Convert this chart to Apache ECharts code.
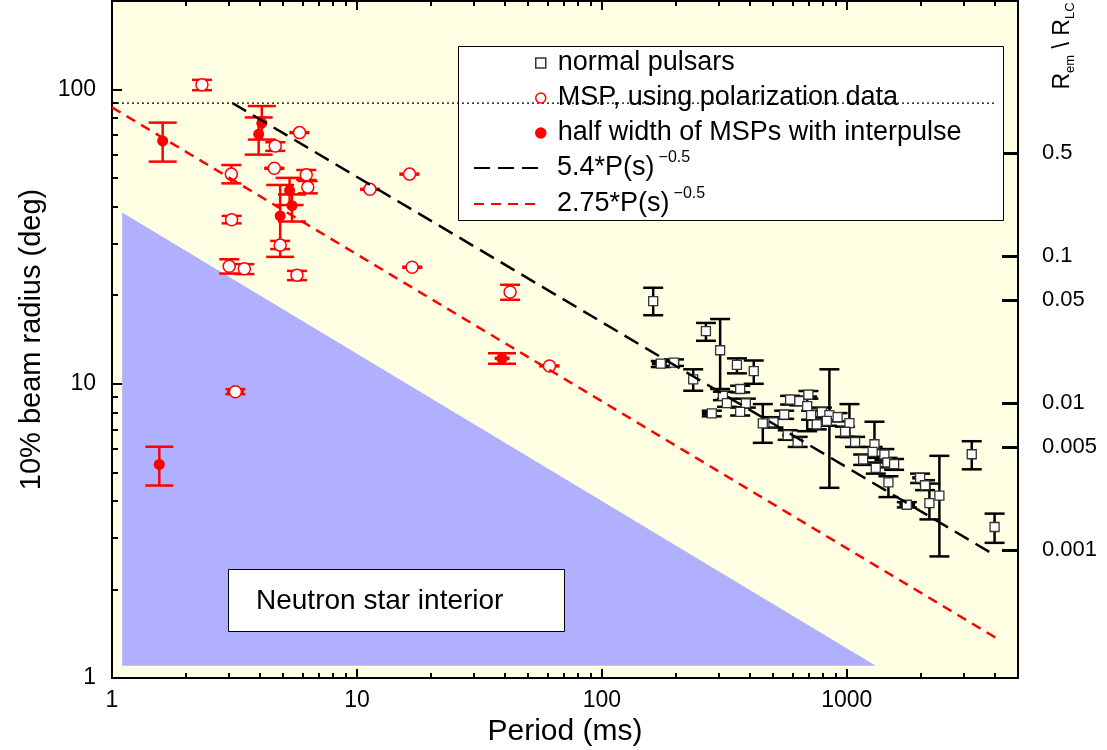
<!DOCTYPE html>
<html>
<head>
<meta charset="utf-8">
<title>beam radius vs period</title>
<script src="https://cdn.jsdelivr.net/npm/echarts@6.0.0/dist/echarts.min.js"></script>
<style>
  html, body { margin: 0; padding: 0; background: #fff; }
  #main { width: 1107px; height: 750px; }
</style>
</head>
<body>
<div id="main"></div>
<script>
// 10% beam radius vs period, log-log

// [P(ms), rho(deg), rhoLow, rhoHigh, pLow, pHigh]  null = no bar
var normalPulsars = [
  [162, 19.1, 17.1, 21.2, null, null],
  [266, 15.1, 14.0, 16.1, null, null],
  [304, 13.0, 9.6, 16.6, null, null],
  [174, 11.7, 11.4, 11.95, 160, 184],
  [197, 11.8, 11.5, 12.1, 188, 207],
  [236, 10.35, 9.47, 11.2, null, null],
  [356, 11.6, 10.85, 12.2, null, null],
  [417, 11.05, 10.0, 12.0, null, null],
  [367, 9.6, 9.35, 9.85, null, null],
  [312, 9.1, 8.8, 9.4, null, null],
  [324, 8.6, 8.35, 8.9, null, null],
  [387, 8.58, 8.3, 8.9, null, null],
  [281, 7.93, 7.75, 8.1, 256, 294],
  [367, 8.03, 7.8, 8.3, null, null],
  [454, 7.33, 6.3, 8.53, null, null],
  [502, 7.39, 7.1, 7.7, null, null],
  [555, 7.86, 7.6, 8.1, null, null],
  [587, 8.84, 8.5, 9.1, null, null],
  [640, 8.73, 8.45, 9.0, null, null],
  [697, 9.19, 8.9, 9.45, null, null],
  [689, 8.4, 6.9, 9.05, null, null],
  [715, 7.83, 7.55, 8.1, null, null],
  [754, 7.28, 7.0, 7.55, null, null],
  [791, 8.01, 7.7, 8.3, null, null],
  [849, 7.83, 4.43, 11.2, null, null],
  [917, 7.7, 7.45, 7.95, null, null],
  [1025, 7.35, 6.59, 8.53, null, null],
  [984, 6.87, 6.6, 7.15, null, null],
  [1081, 6.34, 6.1, 6.6, null, null],
  [574, 6.69, 6.45, 6.95, 545, 600],
  [630, 6.34, 6.1, 6.6, null, null],
  [1166, 5.53, 5.3, 5.75, null, null],
  [1297, 6.23, 5.6, 7.43, null, null],
  [1275, 5.87, 5.65, 6.1, null, null],
  [1424, 5.75, 5.5, 6.0, null, null],
  [1465, 5.4, 5.2, 5.6, null, null],
  [1560, 5.33, 5.1, 5.55, null, null],
  [1313, 5.18, 4.95, 5.4, null, null],
  [1479, 4.62, 4.12, 4.85, null, null],
  [1758, 3.88, 3.8, 3.96, 1640, 1900],
  [1992, 4.79, 4.6, 4.95, 1850, 2080],
  [2087, 4.52, 4.35, 4.7, null, null],
  [2174, 3.93, 3.46, 4.58, null, null],
  [2388, 4.17, 2.59, 5.69, null, null],
  [3237, 5.76, 5.12, 6.38, null, null],
  [4012, 3.26, 2.88, 3.62, null, null],
  [829, 7.48, 7.2, 7.75, null, null]
];

var mspPolar = [
  [2.33, 103.8, 99.5, 107.9, null, null],
  [5.83, 71.4, null, null, 5.3, 6.4],
  [4.64, 64.3, 61.9, 66.2, null, null],
  [4.6, 54.0, null, null, 4.18, 5.06],
  [3.07, 51.6, 48.0, 55.4, null, null],
  [6.21, 51.3, 49.3, 53.3, null, null],
  [6.3, 46.6, 44.4, 48.9, null, null],
  [16.4, 51.6, null, null, 14.9, 18.0],
  [11.3, 45.8, null, null, 10.3, 12.4],
  [3.08, 36.1, 35.1, 37.2, null, null],
  [4.86, 29.6, 28.7, 30.6, null, null],
  [3.01, 25.1, 23.7, 26.5, null, null],
  [3.47, 24.6, 23.6, 25.5, null, null],
  [5.69, 23.4, 22.5, 24.2, null, null],
  [16.8, 24.9, null, null, 15.3, 18.5],
  [3.19, 9.39, 9.22, 9.59, 2.95, 3.45],
  [42.2, 20.5, 19.3, 21.7, null, null],
  [61.1, 11.5, null, null, 55.5, 67.2]
];

var mspInterpulse = [
  [1.61, 66.9, 56.9, 77.2, null, null],
  [1.56, 5.32, 4.51, 6.11, null, null],
  [3.97, 70.5, 60.1, 80.4, null, null],
  [4.09, 76.9, 67.6, 87.9, null, null],
  [4.86, 37.2, 27.0, 47.4, null, null],
  [5.31, 45.4, 40.5, 50.1, null, null],
  [5.43, 40.3, 35.6, 44.0, null, null],
  [39.1, 12.2, 11.7, 12.7, 36.5, 42.0]
];

// lines
var fitBlack = [[3.1, 90], [4070, 2.6]];
var fitRed = [[1, 87], [4060, 1.37]];
var line90 = [[1, 90], [4100, 90]];
var nsInterior = [[1.1, 38.2], [1.1, 1.1], [1313, 1.1]];

// ticks
var xMajor = [1, 10, 100, 1000];
var xMinor = [2, 3, 4, 5, 6, 7, 8, 9, 20, 30, 40, 50, 60, 70, 80, 90,
  200, 300, 400, 500, 600, 700, 800, 900, 2000, 3000, 4000];
var yMajor = [1, 10, 100];
var yMinor = [2, 3, 4, 5, 6, 7, 8, 9, 20, 30, 40, 50, 60, 70, 80, 90];
var rlcLabels = ['0.5', '0.1', '0.05', '0.01', '0.005', '0.001'];
var rlcRho = [60.8, 27.2, 19.2, 8.6, 6.08, 2.72];

var FONT = '"Liberation Sans", Arial, sans-serif';
var X_MIN = 1, X_MAX = 5000, Y_MIN = 1, Y_MAX = 200;

function xAx(pos, ticks, len, labels) {
  return {
    type: 'log', position: pos, min: X_MIN, max: X_MAX,
    axisLine: { show: true, onZero: false, lineStyle: { color: '#000', width: 2 } },
    axisTick: { show: true, inside: true, length: len, customValues: ticks,
      lineStyle: { color: '#000', width: 2 } },
    axisLabel: labels ? {
      show: true, customValues: ticks, color: '#000', fontSize: 23, fontFamily: FONT,
      margin: 11, formatter: function (v) { return String(Math.round(v)); }
    } : { show: false },
    splitLine: { show: false }, minorTick: { show: false }
  };
}

function yAx(pos, ticks, len, labels) {
  return {
    type: 'log', position: pos, min: Y_MIN, max: Y_MAX,
    axisLine: { show: true, onZero: false, lineStyle: { color: '#000', width: 2 } },
    axisTick: { show: true, inside: true, length: len, customValues: ticks,
      lineStyle: { color: '#000', width: 2 } },
    axisLabel: labels ? {
      show: true, customValues: ticks, color: '#000', fontSize: 23, fontFamily: FONT,
      margin: 16, formatter: function (v) { return String(Math.round(v)); }
    } : { show: false },
    splitLine: { show: false }, minorTick: { show: false }
  };
}

// error bars: vertical with caps, horizontal stubs
function errorBars(color, capW) {
  return function (params, api) {
    var x = api.value(0), y = api.value(1);
    var lo = api.value(2), hi = api.value(3), pl = api.value(4), ph = api.value(5);
    var st = { stroke: color, lineWidth: 2.5 };
    var kids = [];
    if (isFinite(lo) && isFinite(hi)) {
      var a = api.coord([x, lo]), b = api.coord([x, hi]);
      kids.push({ type: 'line', shape: { x1: a[0], y1: a[1], x2: b[0], y2: b[1] }, style: st });
      kids.push({ type: 'line', shape: { x1: a[0] - capW / 2, y1: a[1], x2: a[0] + capW / 2, y2: a[1] }, style: st });
      kids.push({ type: 'line', shape: { x1: b[0] - capW / 2, y1: b[1], x2: b[0] + capW / 2, y2: b[1] }, style: st });
    }
    if (isFinite(pl) && isFinite(ph)) {
      var c = api.coord([pl, y]), d = api.coord([ph, y]);
      kids.push({ type: 'line', shape: { x1: c[0], y1: c[1], x2: d[0], y2: d[1] },
        style: { stroke: color, lineWidth: 3.5 } });
    }
    return { type: 'group', children: kids };
  };
}

var DIMS = ['p', 'rho', 'lo', 'hi', 'plo', 'phi'];

var chart = echarts.init(document.getElementById('main'));

var option = {
  backgroundColor: '#fff',
  animation: false,
  textStyle: { fontFamily: FONT },
  grid: {
    left: 112, right: 89, top: 1, bottom: 72,
    show: true, backgroundColor: '#FFFFE3', borderWidth: 0,
    outerBoundsMode: 'none'
  },
  xAxis: [
    Object.assign(xAx('bottom', xMajor, 9, true), {
      name: 'Period (ms)', nameLocation: 'middle', nameGap: 31,
      nameTextStyle: { fontSize: 30, color: '#000', fontFamily: FONT }
    }),
    xAx('bottom', xMinor, 5, false),
    xAx('top', xMajor, 9, false),
    xAx('top', xMinor, 5, false)
  ],
  yAxis: [
    Object.assign(yAx('left', yMajor, 10, true), {
      name: '10% beam radius (deg)', nameLocation: 'middle', nameGap: 62,
      nameTextStyle: { fontSize: 29, color: '#000', fontFamily: FONT }
    }),
    yAx('left', yMinor, 6, false),
    {
      type: 'log', position: 'right', min: Y_MIN, max: Y_MAX,
      axisLine: { show: true, onZero: false, lineStyle: { color: '#000', width: 2 } },
      axisTick: { show: true, inside: true, length: 16, customValues: rlcRho,
        lineStyle: { color: '#000', width: 3 } },
      axisLabel: {
        show: true, customValues: rlcRho, color: '#000', fontSize: 22, fontFamily: FONT, margin: 24,
        formatter: function (v) {
          var best = 0;
          rlcRho.forEach(function (r, i) {
            if (Math.abs(r - v) < Math.abs(rlcRho[best] - v)) best = i;
          });
          return rlcLabels[best];
        }
      },
      splitLine: { show: false }, minorTick: { show: false }
    }
  ],
  legend: [
    {
      // point series
      orient: 'vertical', left: 535, top: 49, padding: 0,
      itemWidth: 10, itemHeight: 10, itemGap: 7, selectedMode: false,
      itemStyle: { borderWidth: 1.5 },
      textStyle: { fontSize: 27, lineHeight: 28, color: '#000', fontFamily: FONT, padding: [0, 0, 0, 7] },
      data: ['normal pulsars', 'MSP, using polarization data', 'half width of MSPs with interpulse'],
      z: 5
    },
    {
      // fitted lines
      orient: 'vertical', left: 473, top: 150, padding: 0,
      itemWidth: 67, itemHeight: 14, itemGap: 0, selectedMode: false,
      itemStyle: { opacity: 0, borderWidth: 0 },
      textStyle: {
        fontSize: 27, lineHeight: 36, color: '#000', fontFamily: FONT, padding: [0, 0, 0, 11],
        rich: { sup: { fontSize: 16, lineHeight: 16, verticalAlign: 'top', padding: [0, 0, 0, 4], color: '#000', fontFamily: FONT } }
      },
      formatter: function (name) { return name + '{sup|\u22120.5}'; },
      data: ['5.4*P(s)', '2.75*P(s)'],
      z: 5
    }
  ],
  graphic: [
    // legend frame
    { type: 'rect', z: 3, shape: { x: 458.5, y: 46.5, width: 545, height: 174 },
      style: { fill: '#fff', stroke: '#000', lineWidth: 1 }, silent: true },
    // Neutron star interior box
    { type: 'rect', z: 3, shape: { x: 228.5, y: 569.5, width: 336, height: 62 },
      style: { fill: '#fff', stroke: '#000', lineWidth: 1 }, silent: true },
    { type: 'text', z: 3, x: 256, y: 601, silent: true,
      style: { text: 'Neutron star interior', fontSize: 28, fontFamily: FONT, fill: '#000',
        align: 'left', verticalAlign: 'middle' } },
    // right axis title
    { type: 'text', z: 3, x: 1063, y: 46, rotation: Math.PI / 2, silent: true,
      style: {
        text: 'R{sub|em} \\ R{sub|LC}', fontSize: 23, lineHeight: 28, fontFamily: FONT, fill: '#000',
        align: 'center', verticalAlign: 'middle',
        rich: { sub: { fontSize: 13, lineHeight: 14, verticalAlign: 'bottom', fontFamily: FONT, fill: '#000' } }
      } }
  ],
  series: [
    {
      name: 'interior', type: 'custom', silent: true,
      data: nsInterior, encode: { x: 0, y: 1 },
      renderItem: function (params, api) {
        if (params.dataIndex !== 0) return null;
        var pts = nsInterior.map(function (p) { return api.coord(p); });
        return { type: 'polygon', shape: { points: pts }, style: { fill: '#B0B0FF' } };
      }
    },
    {
      name: 'ninety', type: 'line', data: line90, symbol: 'none', silent: true,
      lineStyle: { color: '#000', width: 1.2, type: [2, 3] }
    },
    {
      name: '5.4*P(s)', type: 'line', data: fitBlack, symbol: 'none', silent: true,
      lineStyle: { color: '#000', width: 2.5, type: [16, 8] }, itemStyle: { color: '#000' }
    },
    {
      name: '2.75*P(s)', type: 'line', data: fitRed, symbol: 'none', silent: true,
      lineStyle: { color: '#FF0000', width: 2.5, type: [10, 7] }, itemStyle: { color: '#FF0000' }
    },
    {
      name: 'np err', type: 'custom', silent: true, dimensions: DIMS,
      data: normalPulsars, encode: { x: 0, y: 1 }, renderItem: errorBars('#000', 20)
    },
    {
      name: 'msp err', type: 'custom', silent: true, dimensions: DIMS,
      data: mspPolar, encode: { x: 0, y: 1 }, renderItem: errorBars('#FF0000', 20)
    },
    {
      name: 'ip err', type: 'custom', silent: true, dimensions: DIMS,
      data: mspInterpulse, encode: { x: 0, y: 1 }, renderItem: errorBars('#FF0000', 28)
    },
    {
      name: 'normal pulsars', type: 'scatter', silent: true, dimensions: DIMS,
      data: normalPulsars, encode: { x: 0, y: 1 },
      symbol: 'rect', symbolSize: 9,
      itemStyle: { color: '#fff', borderColor: '#333', borderWidth: 1.3, opacity: 1 }
    },
    {
      name: 'MSP, using polarization data', type: 'scatter', silent: true, dimensions: DIMS,
      data: mspPolar, encode: { x: 0, y: 1 },
      symbol: 'circle', symbolSize: 12,
      itemStyle: { color: '#fff', borderColor: '#FF0000', borderWidth: 1.5, opacity: 1 }
    },
    {
      name: 'half width of MSPs with interpulse', type: 'scatter', silent: true, dimensions: DIMS,
      data: mspInterpulse, encode: { x: 0, y: 1 },
      symbol: 'circle', symbolSize: 11,
      itemStyle: { color: '#FF0000', borderColor: '#FF0000', borderWidth: 0, opacity: 1 }
    }
  ]
};

chart.setOption(option);
</script>
</body>
</html>
